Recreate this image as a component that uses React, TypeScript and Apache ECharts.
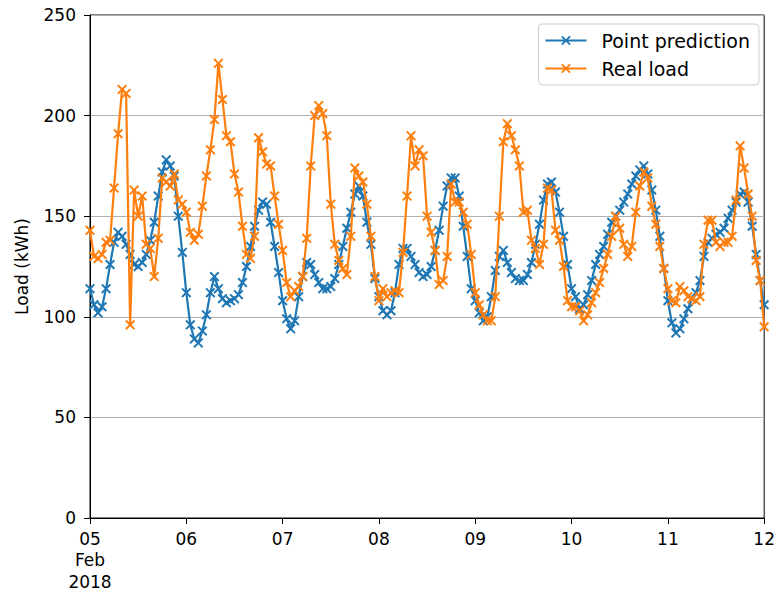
import React, { useEffect, useRef } from "react";
import * as echarts from "echarts";

// Hourly values from 2018-02-05 00:00 to 2018-02-12 00:00
const DAY_LABELS = ["05", "06", "07", "08", "09", "10", "11", "12"];
const MONTH_LABEL = "Feb";
const YEAR_LABEL = "2018";
const HOURS_PER_DAY = 24;

const POINT_PREDICTION = [
  114, 106, 102, 105, 114, 126, 137, 142, 140, 136, 131, 126, 125, 127, 131, 138, 147, 160, 172, 178, 175, 170, 150, 132,
  112, 96, 89, 87, 93, 101, 112, 120, 114, 109, 107, 108, 109, 111, 117, 125, 135, 145, 153, 157, 156, 147, 135, 122,
  108, 99, 94, 98, 110, 120, 127, 126, 121, 117, 114, 114, 115, 119, 126, 135, 144, 152, 161, 165, 160, 147, 136, 119,
  110, 103, 101, 103, 112, 126, 134, 134, 130, 126, 122, 120, 121, 125, 133, 143, 155, 165, 169, 169, 160, 145, 130, 114,
  108, 102, 98, 100, 110, 123, 130, 133, 127, 122, 119, 118, 118, 121, 127, 136, 146, 158, 166, 167, 162, 152, 140, 126,
  114, 110, 104, 106, 111, 118, 126, 131, 135, 141, 147, 150, 153, 157, 161, 166, 170, 173, 175, 171, 163, 153, 140, 124,
  108, 97, 92, 94, 99, 104, 109, 112, 118, 130, 137, 139, 141, 142, 144, 149, 153, 157, 161, 162, 157, 145, 131, 118,
  106,
];

const REAL_LOAD = [
  143, 130, 129, 131, 137, 138, 164, 191, 213, 211, 96, 163, 150, 160, 136, 134, 120, 139, 169, 167, 165, 171, 158, 156,
  152, 142, 138, 141, 155, 170, 183, 198, 226, 208, 190, 187, 171, 162, 145, 131, 129, 140, 189, 182, 176, 175, 160, 146,
  133, 117, 110, 113, 115, 120, 139, 175, 200, 205, 201, 190, 156, 136, 128, 124, 121, 140, 174, 170, 167, 156, 140, 120,
  108, 114, 110, 112, 113, 112, 132, 160, 190, 175, 183, 180, 150, 142, 133, 116, 118, 130, 166, 157, 157, 152, 146, 131,
  112, 106, 101, 98, 98, 110, 150, 187, 196, 190, 183, 175, 152, 153, 138, 134, 126, 136, 164, 163, 143, 138, 125, 108,
  105, 105, 103, 98, 101, 107, 112, 117, 124, 131, 140, 150, 144, 136, 130, 135, 152, 165, 172, 169, 155, 146, 135, 124,
  114, 108, 107, 115, 113, 110, 109, 108, 110, 136, 148, 148, 137, 135, 137, 137, 140, 158, 185, 174, 161, 150, 128, 118,
  95,
];

const SERIES_NAMES = ["Point prediction", "Real load"];
const COLORS = ["#1f77b4", "#ff7f0e"];

const X_MARK =
  "path://M1.4,0L5,3.6L8.6,0L10,1.4L6.4,5L10,8.6L8.6,10L5,6.4L1.4,10L0,8.6L3.6,5L0,1.4Z";

export default function App() {
  const ref = useRef<HTMLDivElement>(null);

  useEffect(() => {
    document.body.style.margin = "0";
    const chart = echarts.init(ref.current!, null, { renderer: "svg" });
    const toPairs = (arr: number[]) => arr.map((v, i) => [i, v]);
    const seriesData = [POINT_PREDICTION, REAL_LOAD];

    chart.setOption({
      animation: false,
      textStyle: { fontFamily: "DejaVu Sans" },
      grid: {
        left: 90,
        right: 10,
        top: 15,
        bottom: 76,
        show: true,
        borderColor: "#000",
        borderWidth: 1,
        backgroundColor: "transparent",
      },
      legend: {
        data: SERIES_NAMES,
        orient: "vertical",
        right: 19,
        top: 24,
        itemWidth: 41,
        itemHeight: 12,
        itemGap: 9,
        padding: [7, 9, 7, 6],
        borderColor: "#cccccc",
        borderWidth: 1,
        borderRadius: 4,
        backgroundColor: "rgba(255,255,255,0.85)",
        textStyle: {
          fontSize: 19,
          color: "#000",
          fontFamily: "DejaVu Sans",
          padding: [0, 0, 0, 10],
        },
      },
      xAxis: {
        type: "value",
        min: 0,
        max: (DAY_LABELS.length - 1) * HOURS_PER_DAY,
        interval: HOURS_PER_DAY,
        axisLine: { show: true, lineStyle: { color: "#000", width: 1 } },
        axisTick: { show: true, length: 6, lineStyle: { color: "#000" } },
        splitLine: { show: false },
        axisLabel: {
          color: "#000",
          fontSize: 17,
          margin: 10,
          lineHeight: 21.5,
          showMinLabel: true,
          showMaxLabel: true,
          formatter: (v: number) => {
            const i = Math.round(v / HOURS_PER_DAY);
            return i === 0
              ? `${DAY_LABELS[0]}\n${MONTH_LABEL}\n${YEAR_LABEL}`
              : DAY_LABELS[i];
          },
        },
      },
      yAxis: {
        type: "value",
        min: 0,
        max: 250,
        interval: 50,
        name: "Load (kWh)",
        nameLocation: "middle",
        nameGap: 60,
        nameTextStyle: { fontSize: 17, color: "#000" },
        axisLine: { show: true, lineStyle: { color: "#000", width: 1 } },
        axisTick: { show: true, length: 6, lineStyle: { color: "#000" } },
        axisLabel: { color: "#000", fontSize: 17, margin: 14 },
        splitLine: { show: true, lineStyle: { color: "#b0b0b0", width: 1.2 } },
      },
      series: SERIES_NAMES.map((name, k) => ({
        name,
        type: "line",
        data: toPairs(seriesData[k]),
        symbol: X_MARK,
        symbolSize: 10,
        showSymbol: true,
        lineStyle: { color: COLORS[k], width: 2.2 },
        itemStyle: { color: COLORS[k] },
        z: 2 + k,
      })),
    });

    return () => chart.dispose();
  }, []);

  return <div ref={ref} style={{ width: 778, height: 594 }} />;
}
